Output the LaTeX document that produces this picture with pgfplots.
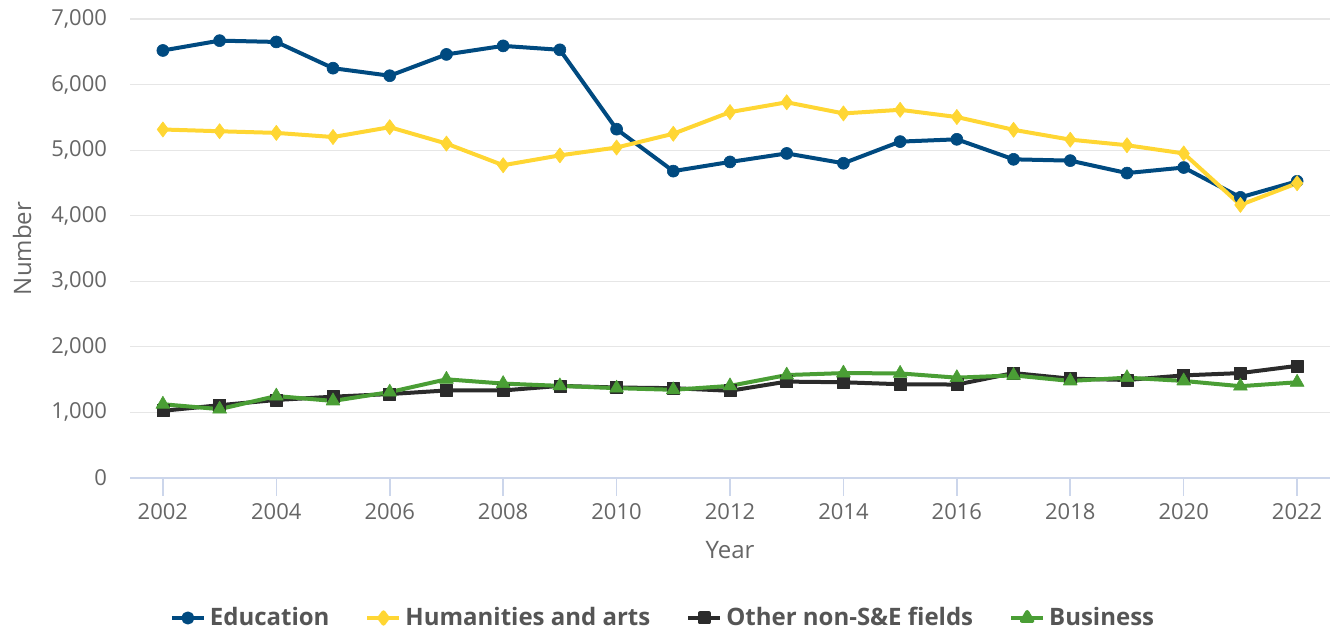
\documentclass[border=0pt]{standalone}
\usepackage{fontspec}
\setmainfont{Open Sans}
\usepackage{pgfplots}
\pgfplotsset{compat=1.18}
\definecolor{edu}{HTML}{004A80}
\definecolor{hum}{HTML}{FFD633}
\definecolor{oth}{HTML}{2B2B2B}
\definecolor{bus}{HTML}{4A9E35}
\definecolor{tick}{HTML}{666666}
\definecolor{grid}{HTML}{E6E6E6}
\definecolor{base}{HTML}{CCD6EB}

\begin{document}
\begin{tikzpicture}
\begin{axis}[
  name=ax,
  scale only axis,
  width=600pt, height=229.5pt,
  xmin=2001.42, xmax=2022.58,
  ymin=0, ymax=7000,
  xtick={2002,2004,...,2022},
  ytick={0,1000,...,7000},
  axis lines*=left,
  x axis line style={draw=base, line width=0.8pt, -},
  y axis line style={draw=none},
  tick align=outside,
  major tick length=9pt,
  xtick style={draw=base, line width=0.8pt},
  ytick style={draw=none},
  ymajorgrids,
  grid style={draw=grid, line width=0.6pt},
  tick label style={font=\fontsize{11}{13}\selectfont, text=tick},
  /pgf/number format/assume math mode=true,
  x tick label style={/pgf/number format/1000 sep={}},
  y tick label style={/pgf/number format/1000 sep={,}, xshift=1pt},
  xlabel={Year}, ylabel={Number},
  every axis x label/.style={at={(axis description cs:0.5,-0.157)}, anchor=center,
    font=\fontsize{12}{14}\selectfont, text=tick},
  every axis y label/.style={at={(axis description cs:-0.09,0.5)}, rotate=90, anchor=center,
    font=\fontsize{12}{14}\selectfont, text=tick},
  legend columns=4,
  legend style={at={(axis description cs:0.445,-0.305)}, anchor=center, draw=none, fill=none,
    font=\fontsize{12}{14}\selectfont\bfseries, text=oth!80,
    /tikz/every even column/.append style={column sep=16pt}},
  legend image code/.code={\draw[#1, mark options={scale=0.75}] (0pt,0pt) -- (8pt,0pt) plot coordinates {(8pt,0pt)} -- (16pt,0pt);},
  every axis plot/.append style={line width=2pt, line join=round},
]
\addplot[edu, mark=*, mark size=3pt, mark options={line width=0.3pt}] coordinates {
(2002,6520) (2003,6670) (2004,6650) (2005,6250) (2006,6135) (2007,6460) (2008,6590)
(2009,6530) (2010,5320) (2011,4680) (2012,4820) (2013,4950) (2014,4800) (2015,5130)
(2016,5165) (2017,4860) (2018,4840) (2019,4650) (2020,4735) (2021,4280) (2022,4525)};
\addplot[hum, mark=diamond*, mark size=3.8pt, mark options={line width=0.3pt}] coordinates {
(2002,5315) (2003,5288) (2004,5263) (2005,5200) (2006,5350) (2007,5100) (2008,4770)
(2009,4920) (2010,5040) (2011,5250) (2012,5580) (2013,5730) (2014,5560) (2015,5615)
(2016,5505) (2017,5310) (2018,5160) (2019,5075) (2020,4950) (2021,4165) (2022,4495)};
\addplot[oth, mark=square*, mark size=3pt, mark options={line width=0.3pt}] coordinates {
(2002,1025) (2003,1110) (2004,1190) (2005,1240) (2006,1280) (2007,1335) (2008,1335)
(2009,1405) (2010,1380) (2011,1370) (2012,1330) (2013,1470) (2014,1460) (2015,1430)
(2016,1425) (2017,1600) (2018,1515) (2019,1495) (2020,1565) (2021,1600) (2022,1710)};
\addplot[bus, mark=triangle*, mark size=4pt, mark options={line width=0.3pt}] coordinates {
(2002,1125) (2003,1050) (2004,1250) (2005,1175) (2006,1310) (2007,1505) (2008,1440)
(2009,1405) (2010,1370) (2011,1345) (2012,1405) (2013,1570) (2014,1600) (2015,1595)
(2016,1530) (2017,1565) (2018,1480) (2019,1530) (2020,1480) (2021,1400) (2022,1460)};
\legend{Education,Humanities and arts,Other non-S\&E fields,Business}
\end{axis}
\pgfresetboundingbox
\path (ax.south west) ++(-65pt,-76pt) rectangle ++(668.5pt,315pt);
\end{tikzpicture}
\end{document}
